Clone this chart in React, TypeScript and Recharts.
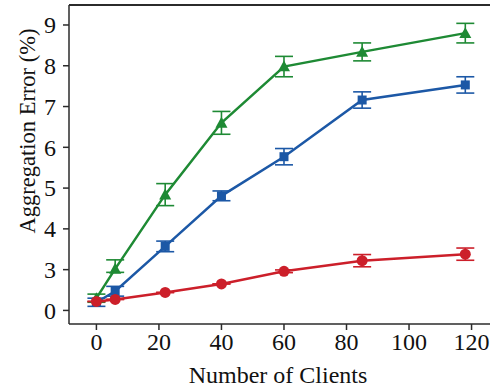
import { LineChart, Line, XAxis, YAxis, ErrorBar, ReferenceLine } from "recharts"

// x positions of the measurements
const clients = [0, 6, 22, 40, 60, 85, 118]

// aggregation error (%) per series, with +/- spread
const greenError = [0.9, 3.02, 4.84, 6.6, 7.98, 8.34, 8.8]
const greenSpread = [0.3, 0.22, 0.27, 0.28, 0.25, 0.22, 0.24]
const blueError = [0.6, 1.41, 3.57, 4.81, 5.77, 7.16, 7.53]
const blueSpread = [0.3, 0.36, 0.13, 0.12, 0.2, 0.2, 0.2]
const redError = [0.66, 0.81, 1.32, 1.95, 2.88, 3.22, 3.38]
const redSpread = [0, 0, 0, 0, 0.1, 0.15, 0.15]

const xTicks = [0, 20, 40, 60, 80, 100, 120]
const yTicks = [0, 3, 4, 5, 6, 7, 8, 9]

// the axis is broken: 0..3 is squeezed into one unit
const toAxis = (v: number) => (v < 3 ? 2 + v / 3 : v)
const fromAxis = (v: number) => (v < 3 ? (v - 2) * 3 : v)

const bar = (v: number, e: number) => [toAxis(v) - toAxis(v - e), toAxis(v + e) - toAxis(v)]

const data = clients.map((x, i) => ({
  x,
  green: toAxis(greenError[i]),
  greenE: bar(greenError[i], greenSpread[i]),
  blue: toAxis(blueError[i]),
  blueE: bar(blueError[i], blueSpread[i]),
  red: toAxis(redError[i]),
  redE: bar(redError[i], redSpread[i]),
}))

const GREEN = "#1e8a34"
const BLUE = "#1c58a6"
const RED = "#cc1f2a"
const AXIS = "#2b2b2b"
const FONT = "'Liberation Serif', 'Times New Roman', serif"

const Y_MIN = 1.667
const Y_MAX = 9.49

const textStyle = { fontFamily: FONT, fontSize: 24, fill: "#111" }

function XTick(p: any) {
  return (
    <text x={p.x} y={p.y} dy="0.68em" textAnchor="middle" style={textStyle}>
      {p.payload.value}
    </text>
  )
}

function YTick(p: any) {
  return (
    <text x={p.x} y={p.y} dy="0.35em" textAnchor="end" style={textStyle}>
      {Math.round(fromAxis(p.payload.value))}
    </text>
  )
}

function Triangle(p: any) {
  const { cx, cy } = p
  if (cx == null || cy == null) return null
  const s = 6
  return <path key={`g${p.index}`} d={`M${cx},${cy - s} L${cx + s},${cy + s * 0.8} L${cx - s},${cy + s * 0.8} Z`} fill={GREEN} />
}

function Square(p: any) {
  const { cx, cy } = p
  if (cx == null || cy == null) return null
  return <rect key={`b${p.index}`} x={cx - 4.5} y={cy - 4.5} width={9} height={9} fill={BLUE} />
}

function Dot(p: any) {
  const { cx, cy } = p
  if (cx == null || cy == null) return null
  return <circle key={`r${p.index}`} cx={cx} cy={cy} r={5.5} fill={RED} />
}

export default function App() {
  return (
    <div style={{ position: "absolute", left: 0, top: 0, width: 490, height: 389, overflow: "hidden", background: "#fff" }}>
      <LineChart width={500} height={389} data={data} margin={{ top: 5, right: 5, left: 0, bottom: 0 }}>
        <XAxis
          dataKey="x"
          type="number"
          domain={[-8.77, 127.5]}
          ticks={xTicks}
          allowDataOverflow
          height={65}
          tick={XTick}
          tickSize={6}
          tickMargin={4}
          stroke={AXIS}
          strokeWidth={1.5}
          label={{ value: "Number of Clients", position: "insideBottom", offset: 6, dx: -4, style: { fontFamily: FONT, fontSize: 24, fill: "#111" } }}
        />
        <YAxis
          type="number"
          domain={[Y_MIN, Y_MAX]}
          ticks={yTicks.map(toAxis)}
          allowDataOverflow
          width={69}
          tick={YTick}
          tickSize={6}
          tickMargin={7}
          stroke={AXIS}
          strokeWidth={1.5}
          label={{
            content: () => (
              <text x={27} y={131} transform="rotate(-90, 27, 131)" textAnchor="middle" dominantBaseline="central" style={{ fontFamily: FONT, fontSize: 22.5, fill: "#111" }}>
                Aggregation Error (%)
              </text>
            ),
          }}
        />
        <ReferenceLine y={Y_MAX} stroke={AXIS} strokeWidth={2} />
        <Line dataKey="green" stroke={GREEN} strokeWidth={2.5} dot={Triangle} activeDot={false} isAnimationActive={false}>
          <ErrorBar dataKey="greenE" width={9} stroke={GREEN} strokeWidth={1.6} />
        </Line>
        <Line dataKey="blue" stroke={BLUE} strokeWidth={2.5} dot={Square} activeDot={false} isAnimationActive={false}>
          <ErrorBar dataKey="blueE" width={9} stroke={BLUE} strokeWidth={1.6} />
        </Line>
        <Line dataKey="red" stroke={RED} strokeWidth={2.5} dot={Dot} activeDot={false} isAnimationActive={false}>
          <ErrorBar dataKey="redE" width={9} stroke={RED} strokeWidth={1.6} />
        </Line>
      </LineChart>
    </div>
  )
}
